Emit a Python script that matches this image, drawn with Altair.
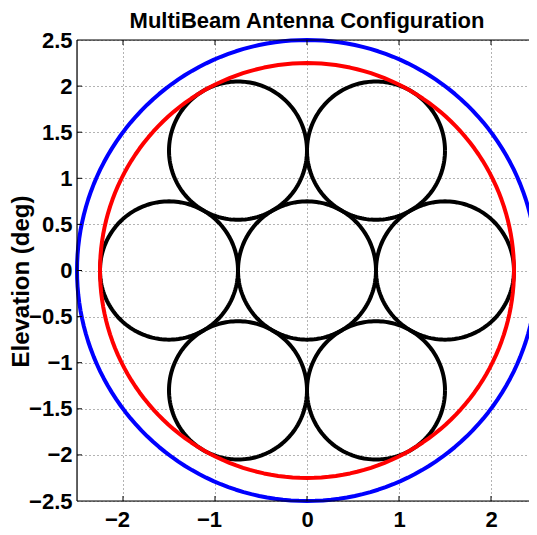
import altair as alt
import pandas as pd

# ---- data ----
chart_title = "MultiBeam Antenna Configuration"
y_title = "Elevation (deg)"

beam_cx = [0.0, 1.5, 0.75, -0.75, -1.5, -0.75, 0.75]
beam_cy = [0.0, 0.0, 1.3, 1.3, 0.0, -1.3, -1.3]
beam_r = [0.75, 0.75, 0.75, 0.75, 0.75, 0.75, 0.75]
ring_r = [2.25, 2.5]
ring_colors = ["#ff0000", "#0000ff"]

x_ticks = [-2, -1, 0, 1, 2]
y_ticks = [-2.5, -2, -1.5, -1, -0.5, 0, 0.5, 1, 1.5, 2, 2.5]
x_domain = [-2.5, 2.5]
y_domain = [-2.5, 2.5]

W_VIS, W_FULL, H = 452, 460, 461
FONT = "Liberation Sans"

rows = []
for i, (cx, cy, r) in enumerate(zip(beam_cx, beam_cy, beam_r)):
    rows.append({"id": f"b{i}", "cx": cx, "cy": cy, "r": r, "col": "#000000", "grp": 0})
for j, (r, c) in enumerate(zip(ring_r, ring_colors)):
    rows.append({"id": f"r{j}", "cx": 0.0, "cy": 0.0, "r": r, "col": c, "grp": j + 1})
circles = pd.DataFrame(rows)

xs = alt.Scale(domain=x_domain, nice=False, zero=False, range=[0, W_FULL])
ys = alt.Scale(domain=y_domain, nice=False, zero=False)

x_axis = alt.Axis(
    values=x_ticks, title=None, grid=True, gridDash=[1, 3], gridColor="#666",
    gridWidth=1, ticks=False, domain=False, labelFont=FONT, labelFontSize=22,
    labelFontWeight="bold", labelColor="black", labelPadding=8, format="~g",
    labelFlush=False, labelOverlap=False,
    labelOffset={"condition": {"test": "datum.value < 0", "value": -6}, "value": 0},
)
y_axis = alt.Axis(
    values=y_ticks, title=y_title, grid=True, gridDash=[1, 3], gridColor="#666",
    gridWidth=1, ticks=False, domain=False, labelFont=FONT, labelFontSize=22,
    labelFontWeight="bold", labelColor="black", labelPadding=5, format="~g",
    labelAlign="right", labelBaseline="middle",
    labelFlush=False, labelOverlap=False,
    titleFont=FONT, titleFontSize=24, titleFontWeight="bold", titleColor="black",
    titleAngle=270, titleX=-56, titleY=241, titleAlign="center", titleBaseline="middle",
)

X = lambda: alt.X("px:Q", scale=xs, axis=x_axis)
Y = lambda: alt.Y("py:Q", scale=ys, axis=y_axis)

base = alt.Chart(circles).transform_calculate(
    ang="sequence(0, 362, 2)"
).transform_flatten(["ang"]).transform_calculate(
    px="datum.cx + datum.r * cos(datum.ang * PI / 180)",
    py="datum.cy + datum.r * sin(datum.ang * PI / 180)",
)

def circle_layer(grp):
    return base.transform_filter(f"datum.grp == {grp}").mark_line(
        strokeWidth=4, strokeJoin="round"
    ).encode(
        x=X(), y=Y(),
        detail="id:N",
        order="ang:Q",
        color=alt.Color("col:N", scale=None),
    )

xt = pd.DataFrame({"px": x_ticks})
yt = pd.DataFrame({"py": y_ticks[1:-1]})

tick_top = alt.Chart(xt).mark_rule(color="black", strokeWidth=1).encode(
    x=X(), y=alt.value(0), y2=alt.value(5))
tick_bot = alt.Chart(xt).mark_rule(color="black", strokeWidth=1).encode(
    x=X(), y=alt.value(H), y2=alt.value(H - 5))
tick_left = alt.Chart(yt).mark_rule(color="black", strokeWidth=1).encode(
    y=Y(), x=alt.value(0), x2=alt.value(5))
tick_right = alt.Chart(yt).mark_rule(color="black", strokeWidth=1).encode(
    y=Y(), x=alt.value(W_FULL), x2=alt.value(W_FULL - 5))

one = pd.DataFrame({"a": [0]})
spine_top = alt.Chart(one).mark_rule(color="black", strokeWidth=1.2).encode(
    x=alt.value(0), x2=alt.value(W_FULL), y=alt.value(0))
spine_bot = alt.Chart(one).mark_rule(color="black", strokeWidth=1.2).encode(
    x=alt.value(0), x2=alt.value(W_FULL), y=alt.value(H))
spine_left = alt.Chart(one).mark_rule(color="black", strokeWidth=1.2).encode(
    x=alt.value(0), y=alt.value(0), y2=alt.value(H))

title_mark = alt.Chart(one).mark_text(
    text=chart_title, font=FONT, fontSize=22, fontWeight="bold", color="black",
    align="center", baseline="alphabetic",
).encode(x=alt.value(W_FULL / 2), y=alt.value(-12))

chart = alt.layer(
    circle_layer(0), circle_layer(1), circle_layer(2),
    tick_top, tick_bot, tick_left, tick_right,
    spine_top, spine_bot, spine_left, title_mark,
).properties(
    width=W_VIS, height=H,
    autosize=alt.AutoSizeParams(type="none"),
    padding={"left": 69, "top": 32, "right": 0, "bottom": 30},
).configure_view(stroke=None).configure(background="white")

chart.save("out.html", embed_options={"renderer": "svg", "actions": False})
